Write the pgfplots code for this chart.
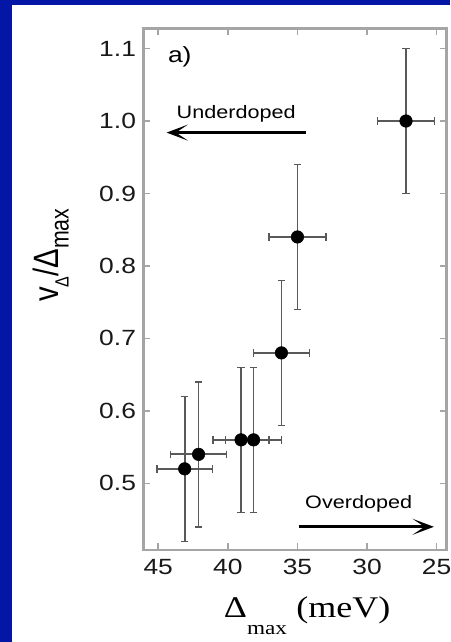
\documentclass[border=0pt]{standalone}
\usepackage{fontspec}
\usepackage{graphicx}
\usepackage{pgfplots}
\pgfplotsset{compat=1.18}
\usetikzlibrary{arrows.meta}
\setmainfont[FakeStretch=1.2]{Liberation Sans}
\newfontfamily\plainsans{Liberation Sans}
\newfontfamily\timesw[FakeStretch=1.2]{Liberation Serif}
\definecolor{slideblue}{RGB}{4,22,165}
\definecolor{framegray}{RGB}{165,165,165}

\begin{document}
\begin{tikzpicture}
% slide background: blue border on left and top
\useasboundingbox[fill=slideblue] (-107.5pt,-69pt) rectangle (230pt,412.5pt);
\fill[white] (-98.5pt,-69pt) rectangle (230pt,408.75pt);

\begin{axis}[
    at={(0pt,0pt)}, anchor=south west,
    scale only axis,
    width=227.5pt, height=391.3pt,
    x dir=reverse,
    xmin=24.28, xmax=46.07,
    ymin=0.408, ymax=1.128,
    xtick={25,30,35,40,45},
    ytick={0.5,0.6,0.7,0.8,0.9,1.0,1.1},
    /pgf/number format/assume math mode=true,
    ticklabel style={font=\fontsize{16.5}{16.5}\selectfont, text=black!90},
    xticklabel style={yshift=-3.5pt},
    yticklabel style={xshift=-2pt, /pgf/number format/.cd, fixed, fixed zerofill, precision=1},
    axis line style={framegray, line width=2.2pt},
    tick style={framegray, line width=1.1pt},
    tick align=inside,
    major tick length=5pt,
    xlabel={\timesw\fontsize{22.5}{22.5}\selectfont Δ\raisebox{-12.5pt}{\fontsize{14.5}{14.5}\selectfont max}\hspace{7pt}(meV)},
    every axis x label/.style={at={(axis description cs:0.54,-0.130)}, anchor=base},
    ylabel={\scalebox{1}[1.2]{\plainsans\fontsize{22}{22}\selectfont v\raisebox{-6pt}{\fontsize{12}{12}\selectfont Δ}/Δ\raisebox{-6pt}{\fontsize{16}{16}\selectfont max}}},
    every axis y label/.style={at={(axis description cs:-0.304,0.565)}, anchor=center, rotate=90},
    clip=false,
]
    % data with error bars
    \addplot[
        only marks, mark=*, mark size=4.7pt, black,
        error bars/.cd,
            x dir=both, x explicit,
            y dir=both, y explicit,
            error bar style={line width=1.3pt, black!65},
            error mark options={rotate=90, line width=1.1pt, black!65, mark size=2.8pt},
    ] coordinates {
        (43.1,0.52) +- (2.0,0.10)
        (42.1,0.54) +- (2.0,0.10)
        (39.05,0.56) +- (2.0,0.10)
        (38.15,0.56) +- (2.0,0.10)
        (36.15,0.68) +- (2.0,0.10)
        (35.0,0.84) +- (2.05,0.10)
        (27.2,1.00) +- (2.05,0.10)
    };

    % annotations
    \node[font=\fontsize{16.5}{16.5}\selectfont] at (axis cs:43.45,1.088) {a)};
    \node[font=\fontsize{13.5}{13.5}\selectfont] at (axis cs:39.4,1.010) {Underdoped};
    \draw[line width=2pt, -{Stealth[length=16pt,width=12pt,inset=9pt]}] (axis cs:34.4,0.984) -- (axis cs:44.4,0.984);
    \node[font=\fontsize{13.5}{13.5}\selectfont] at (axis cs:30.6,0.4715) {Overdoped};
    \draw[line width=2pt, -{Stealth[length=16pt,width=12pt,inset=9pt]}] (axis cs:34.9,0.440) -- (axis cs:25.2,0.440);
\end{axis}
\end{tikzpicture}
\end{document}
